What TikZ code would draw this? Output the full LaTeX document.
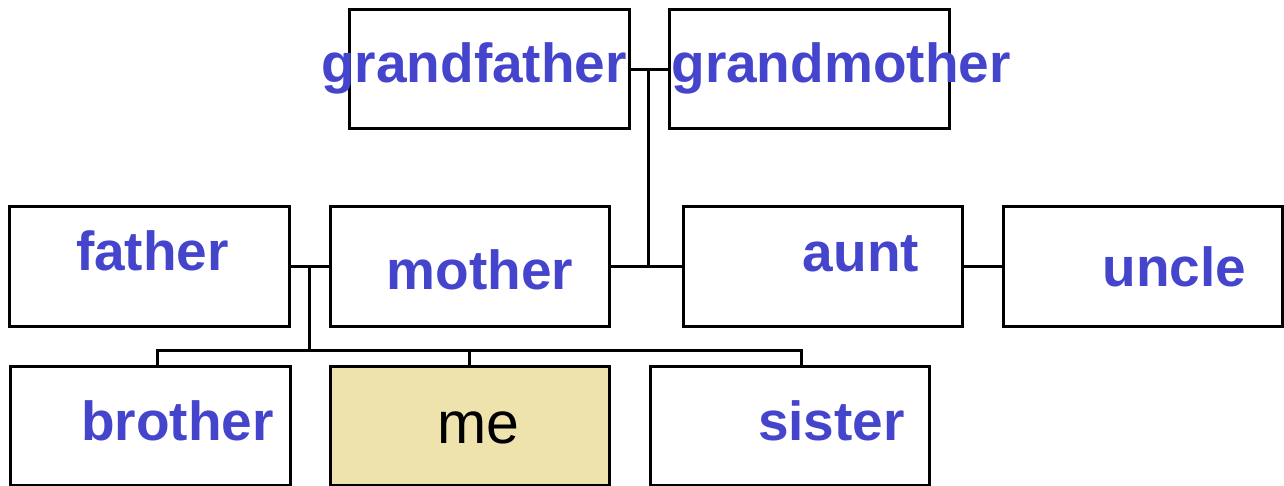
\documentclass[tikz,border=0pt]{standalone}
\usepackage{fontspec}
\setmainfont{Liberation Sans}
\definecolor{txtblue}{HTML}{4444CC}
\definecolor{mefill}{HTML}{EFE3AD}
\begin{document}
\begin{tikzpicture}[x=1pt,y=-1pt,
  box/.style={draw=black,line width=3pt,rectangle,minimum width=280,minimum height=119,inner sep=0pt,fill=white},
  lbl/.style={anchor=base,inner sep=0pt,text=txtblue,font=\fontsize{55}{60}\selectfont\bfseries},
  link/.style={line width=3pt,line cap=rect}]
\clip (0,0) rectangle (1284,486);
\fill[white] (0,0) rectangle (1284,486);
% boxes
\node[box] (gf) at (489,69.5) {};
\node[box] (gm) at (809,69.5) {};
\node[box,minimum width=280] (fa) at (149,266.5) {};
\node[box,minimum width=279] (mo) at (469.5,266.5) {};
\node[box,minimum width=279] (au) at (822.5,266.5) {};
\node[box,minimum width=279] (un) at (1142.5,266.5) {};
\node[box] (br) at (150,425.5) {};
\node[box,minimum width=279,fill=mefill] (me) at (469.5,425.5) {};
\node[box,minimum width=279] (si) at (789.5,425.5) {};
% junctions
\coordinate (gj) at (648,69.5);
\coordinate (pj) at (309,266.5);
\coordinate (cb) at (157,350);
\coordinate (cs) at (801,350);
% connectors
\draw[link] (gf.east) -- (gm.west);
\draw[link] (gj) -- (gj |- mo.east);
\draw[link] (mo.east) -- (au.west);
\draw[link] (au.east) -- (un.west);
\draw[link] (fa.east) -- (mo.west);
\draw[link] (pj) -- (pj |- cb);
\draw[link] (cb) -- (cs);
\draw[link] (cb) -- (cb |- br.north);
\draw[link] (me.north) -- (me.north |- cb);
\draw[link] (cs) -- (cs |- si.north);
% labels
\node[lbl] (gft) at (474,83) {grandfather};
\node[lbl] (gmt) at (841,83) {grandmother};
\node[lbl] (fat) at (152.5,270) {father};
\node[lbl] (mot) at (480,289) {mother};
\node[lbl] (aut) at (861,272) {aunt};
\node[lbl] (unt) at (1174.5,286) {uncle};
\node[lbl] (brt) at (177.5,440) {brother};
\node[lbl,text=black,font=\fontsize{59}{62}\selectfont] (met) at (478,443) {me};
\node[lbl] (sit) at (831.5,440) {sister};
\end{tikzpicture}
\end{document}
